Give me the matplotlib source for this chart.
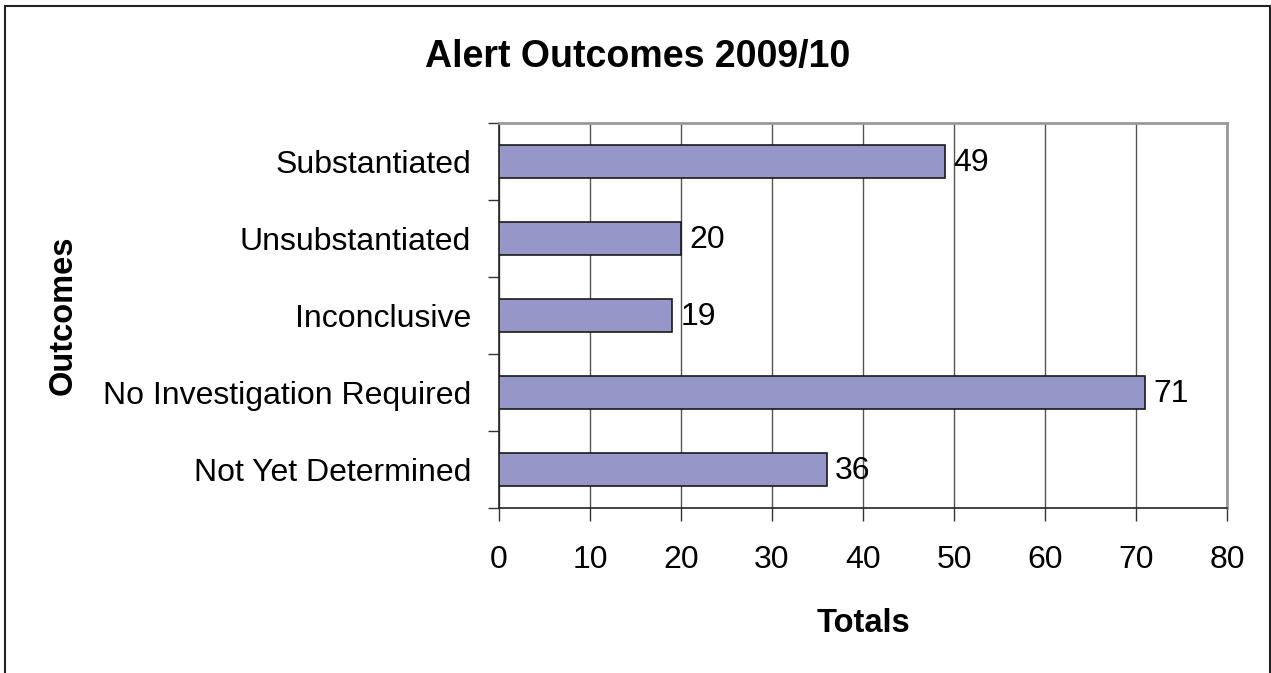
import matplotlib.pyplot as plt
from matplotlib.patches import Rectangle

# data
outcomes = ["Substantiated", "Unsubstantiated", "Inconclusive",
            "No Investigation Required", "Not Yet Determined"]
totals = [49, 20, 19, 71, 36]
xticks = [0, 10, 20, 30, 40, 50, 60, 70, 80]

plt.rcParams['font.family'] = ['Liberation Sans', 'DejaVu Sans']

fig = plt.figure(figsize=(12.71, 6.73), dpi=100)
ax = fig.add_axes([0.3926, 0.2452, 0.5728, 0.572])

# outer frame (bottom edge is cut off in the original)
fig.patches.append(Rectangle((5 / 1271, -0.05), 1265 / 1271, 1.05 - 6 / 673,
                             transform=fig.transFigure, fill=False,
                             edgecolor='#222222', linewidth=1.5))

ypos = list(range(len(outcomes)))
ax.barh(ypos, totals, height=0.42, color='#9696C8', edgecolor='#1a1a1a',
        linewidth=1.2, zorder=3)
for y, v in zip(ypos, totals):
    ax.annotate(str(v), (v, y), xytext=(6, -1), textcoords='offset points',
                va='center', ha='left', fontsize=23)

ax.set_xlim(0, 80)
ax.set_ylim(len(outcomes) - 0.5, -0.5)
ax.set_xticks(xticks)
ax.tick_params(axis='x', direction='out', length=9, width=1, labelsize=23,
               pad=17.5, color='#333333')

# category boundaries get the ticks, labels sit between them
ax.set_yticks([i - 0.5 for i in range(len(outcomes) + 1)])
ax.set_yticklabels([])
ax.set_yticks(ypos, minor=True)
ax.set_yticklabels(outcomes, minor=True)
ax.tick_params(axis='y', which='major', direction='out', length=8, width=1,
               color='#333333')
ax.tick_params(axis='y', which='minor', length=0, labelsize=23, pad=20)

ax.grid(axis='x', color='#555555', linewidth=1, zorder=0)
ax.set_axisbelow(True)
for side in ['top', 'right']:
    ax.spines[side].set_color('#999999')
    ax.spines[side].set_linewidth(2)
for side in ['left', 'bottom']:
    ax.spines[side].set_color('#222222')
    ax.spines[side].set_linewidth(1.2)

ax.set_xlabel('Totals', fontsize=23.5, fontweight='bold', labelpad=24)
ax.set_ylabel('Outcomes', fontsize=23.5, fontweight='bold')
ax.yaxis.set_label_coords(-0.578, 0.5)
fig.text(0.502, 0.916, 'Alert Outcomes 2009/10', ha='center', va='center',
         fontsize=27, fontweight='bold')

fig.savefig('out.png', dpi=100)
